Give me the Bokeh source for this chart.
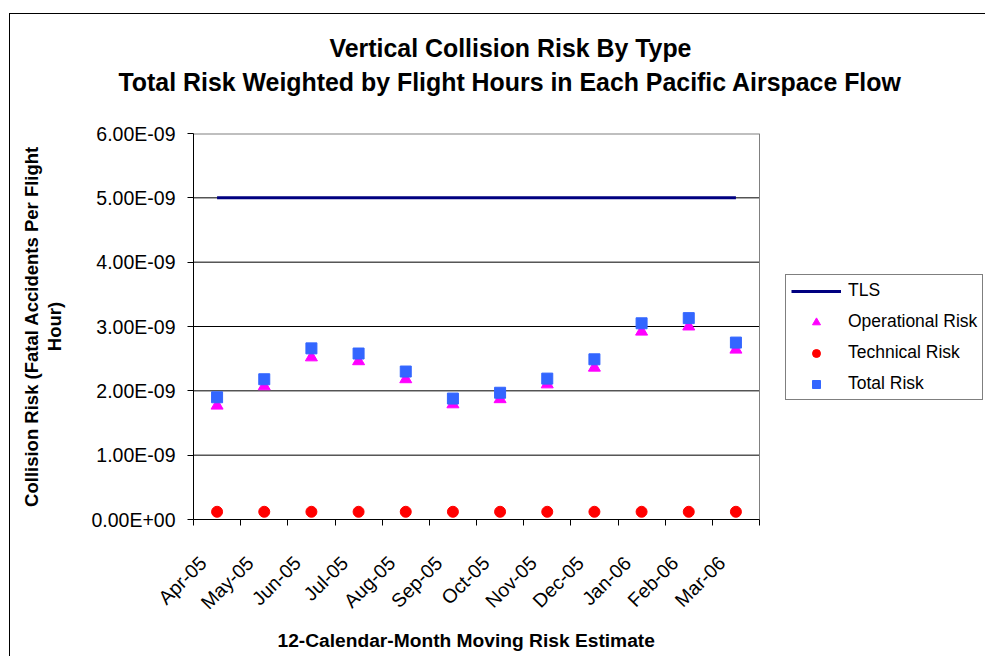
import numpy as np
from bokeh.plotting import figure
from bokeh.models import (Range1d, FixedTicker, CustomJSTickFormatter, Legend,
                          LegendItem, Title, ColumnDataSource)
from bokeh.embed import file_html
from bokeh.resources import INLINE

months = ["Apr-05", "May-05", "Jun-05", "Jul-05", "Aug-05", "Sep-05",
          "Oct-05", "Nov-05", "Dec-05", "Jan-06", "Feb-06", "Mar-06"]
tls = [5.0e-9] * 12
operational = [1.77e-9, 2.07e-9, 2.52e-9, 2.46e-9, 2.18e-9, 1.79e-9,
               1.87e-9, 2.10e-9, 2.36e-9, 2.92e-9, 3.00e-9, 2.64e-9]
technical = [0.12e-9] * 12
total = [1.90e-9, 2.18e-9, 2.66e-9, 2.58e-9, 2.30e-9, 1.88e-9,
         1.97e-9, 2.19e-9, 2.49e-9, 3.05e-9, 3.13e-9, 2.75e-9]
y_ticks = [0, 1e-9, 2e-9, 3e-9, 4e-9, 5e-9, 6e-9]

FONT = "Liberation Sans"
W, H = 985, 656
LBL = "19.5px"
PLOT_L, PLOT_R = 193, 759          # pixel edges of the Excel plot area
n = len(months)
x_end = n * (W - PLOT_L) / (PLOT_R - PLOT_L)   # frame extends under legend

xs = [i + 0.5 for i in range(n)]
# rotated labels sit slightly left of the category centre, as in Excel
label_pos = [round(x - 0.3, 3) for x in xs]
src = ColumnDataSource(dict(x=xs, tls=tls, op=operational, tech=technical, tot=total))

p = figure(width=W, height=H, output_backend="svg", toolbar_location=None,
           x_range=Range1d(0, x_end), y_range=Range1d(y_ticks[0], y_ticks[-1]),
           min_border_left=PLOT_L, min_border_right=0, min_border_top=133,
           min_border_bottom=137)
p.background_fill_color = "white"
p.border_fill_alpha = 0
p.outline_line_color = None
p.styles = {
    "background-color": "white",
    "background-image": "linear-gradient(#000, #000), linear-gradient(#000, #000)",
    "background-position": "9px 13px, 9px 13px",
    "background-size": "1px 100%, 100% 1px",
    "background-repeat": "no-repeat",
}

# plot-area gridlines and border (limited to the category span)
grid_y = y_ticks[1:-1]
p.segment(x0=[0] * len(grid_y), x1=[n] * len(grid_y), y0=grid_y, y1=grid_y,
          line_color="black", line_width=1)
p.segment(x0=[0], x1=[n], y0=[y_ticks[-1]], y1=[y_ticks[-1]],
          line_color="#808080", line_width=2)
p.segment(x0=[n], x1=[n], y0=[y_ticks[0]], y1=[y_ticks[-1]],
          line_color="#808080", line_width=1)

# x axis
p.xaxis.bounds = (0, n)
p.xaxis.ticker = FixedTicker(ticks=label_pos, minor_ticks=list(range(n + 1)))
p.xaxis.major_label_overrides = {x: m for x, m in zip(label_pos, months)}
p.xaxis.major_tick_out = 0
p.xaxis.major_tick_in = 0
p.xaxis.minor_tick_out = 6
p.xaxis.minor_tick_in = 0
p.xaxis.minor_tick_line_color = "black"
p.xaxis.major_label_orientation = np.pi / 4
p.xaxis.major_label_standoff = 34
p.xaxis.major_label_text_font = FONT
p.xaxis.major_label_text_font_size = LBL
p.xaxis.major_label_text_color = "black"
p.xaxis.axis_line_color = "black"

# y axis
p.yaxis.ticker = FixedTicker(ticks=y_ticks)
p.yaxis.formatter = CustomJSTickFormatter(code="""
const s = tick.toExponential(2).toUpperCase();
return s.replace(/E([+-])(\\d)$/, "E$10$2");
""")
p.yaxis.major_tick_out = 6
p.yaxis.major_tick_in = 0
p.yaxis.major_tick_line_color = "black"
p.yaxis.minor_tick_out = 0
p.yaxis.minor_tick_in = 0
p.yaxis.major_label_text_font = FONT
p.yaxis.major_label_text_font_size = LBL
p.yaxis.major_label_text_color = "black"
p.yaxis.major_label_standoff = 12
p.yaxis.axis_label = "Collision Risk (Fatal Accidents Per Flight\nHour)"
p.yaxis.axis_label_text_font = FONT
p.yaxis.axis_label_text_font_style = "bold"
p.yaxis.axis_label_text_font_size = "18.5px"
p.yaxis.axis_label_text_line_height = 1.13
p.yaxis.axis_label_text_color = "black"
p.yaxis.axis_label_standoff = 23
p.yaxis.axis_line_color = "black"

p.xgrid.grid_line_color = None
p.ygrid.grid_line_color = None

# data
r_tls = p.line("x", "tls", source=src, line_color="#000080", line_width=3)
r_op = p.scatter("x", "op", source=src, marker="triangle", size=12,
                 fill_color="#FF00FF", line_color="#FF00FF")
r_tech = p.scatter("x", "tech", source=src, marker="circle", size=11,
                   fill_color="#FF0000", line_color="#FF0000")
r_tot = p.scatter("x", "tot", source=src, marker="square", size=11,
                  fill_color="#3366FF", line_color="#3366FF")

legend = Legend(items=[
    LegendItem(label="TLS", renderers=[r_tls]),
    LegendItem(label="Operational Risk", renderers=[r_op]),
    LegendItem(label="Technical Risk", renderers=[r_tech]),
    LegendItem(label="Total Risk", renderers=[r_tot]),
], location=(592, 119))
legend.label_text_font = FONT
legend.label_text_font_size = "17.5px"
legend.label_text_color = "black"
legend.glyph_width = 50
legend.glyph_height = 20
legend.label_standoff = 7
legend.spacing = 10
legend.padding = 5
legend.margin = 0
legend.border_line_color = "black"
legend.border_line_width = 1
legend.background_fill_color = "white"
legend.background_fill_alpha = 1
p.add_layout(legend, "center")

# titles (first added sits closest to the plot area)
p.title.text = ""
spacer = Title(text=" ", text_font_size="10px", standoff=22)
t2 = Title(text="Total Risk Weighted by Flight Hours in Each Pacific Airspace Flow",
           text_font=FONT, text_font_style="bold", text_font_size="24.9px",
           text_color="black", align="left", offset=-75, standoff=4,
           vertical_align="middle")
t1 = Title(text="Vertical Collision Risk By Type",
           text_font=FONT, text_font_style="bold", text_font_size="24.9px",
           text_color="black", align="left", offset=136, standoff=4,
           vertical_align="middle")
p.add_layout(spacer, "above")
p.add_layout(t2, "above")
p.add_layout(t1, "above")

# x axis title, placed below the tick labels
xtitle = Title(text="12-Calendar-Month Moving Risk Estimate",
               text_font=FONT, text_font_style="bold", text_font_size="19.2px",
               text_color="black", align="left", offset=84, standoff=8,
               vertical_align="middle")
p.add_layout(xtitle, "below")

open("out.html", "w").write(file_html(p, INLINE))
